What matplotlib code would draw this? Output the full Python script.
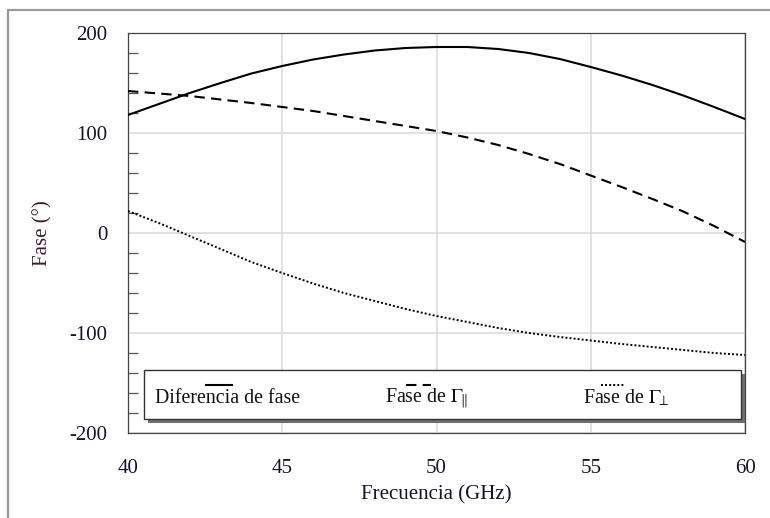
import matplotlib
matplotlib.use("Agg")
import matplotlib.pyplot as plt
from matplotlib.patches import Rectangle
from matplotlib.lines import Line2D
from matplotlib.ticker import MultipleLocator

plt.rcParams["font.family"] = ["Liberation Serif", "DejaVu Serif"]
plt.rcParams["mathtext.fontset"] = "stix"
plt.rcParams["axes.unicode_minus"] = False

# Frequency sweep (GHz) and phase curves (degrees)
freq = [40, 41, 42, 43, 44, 45, 46, 47, 48, 49, 50,
        51, 52, 53, 54, 55, 56, 57, 58, 59, 60]
diferencia = [118, 129, 140, 150, 159.5, 167, 173.5, 178.5, 182.5, 185, 186,
              186, 184, 180, 174, 166, 157.5, 148, 137.5, 126, 114]
fase_par = [142, 139.5, 137, 133.5, 130, 126, 122, 117, 112, 107, 102,
            95.5, 88, 79, 69, 57.5, 46, 34, 21.5, 7, -9]
fase_perp = [22, 10, -3, -16, -29, -40, -50.5, -60, -68, -76, -83,
             -89, -95, -100, -104, -107.5, -111, -114, -117, -120, -122]

labels = ["Diferencia de fase", r"Fase de $\Gamma_{\!\|}$", r"Fase de $\Gamma_{\!\!\bot}$"]
x_ticks = [40, 45, 50, 55, 60]
y_ticks = [-200, -100, 0, 100, 200]

W, H = 770, 518
fig = plt.figure(figsize=(W / 100, H / 100), dpi=100)
ax = fig.add_axes([128 / W, 1 - 433 / H, (745 - 128) / W, (433 - 33) / H])

solid_style = dict(color="black", lw=1.5, linestyle="-")
dash_style = dict(color="black", lw=1.5, linestyle=(0, (5, 3)))
dot_style = dict(color="black", lw=1.4, linestyle=(0, (1, 1.1)))

ax.plot(freq, diferencia, **solid_style, zorder=3)
ax.plot(freq, fase_par, **dash_style, zorder=3)
ax.plot(freq, fase_perp, **dot_style, zorder=3)

ax.set_xlim(40, 60)
ax.set_ylim(-200, 200)
ax.set_xticks(x_ticks)
ax.set_yticks(y_ticks)
ax.yaxis.set_minor_locator(MultipleLocator(20))
ax.grid(True, which="major", color="#d8d8d8", lw=1.1, zorder=0)
ax.tick_params(axis="both", which="major", length=0, labelsize=15,
               labelcolor="#14142a")
ax.tick_params(axis="x", pad=19)
ax.tick_params(axis="y", pad=15)
ax.tick_params(axis="y", which="minor", direction="in", length=7,
               width=0.9, color="#555555")
ax.tick_params(axis="x", which="minor", length=0)
for sp in ax.spines.values():
    sp.set_color("#444444")
    sp.set_linewidth(0.9)

ax.set_xlabel("Frecuencia (GHz)", fontsize=15, color="#14142a", labelpad=5)
ax.set_ylabel("Fase (°)", fontsize=15, color="#3a1f33", labelpad=12)

# Boxed legend with a drop shadow, samples drawn above each label
bx0, bx1 = (144 - 128) / 617, (741 - 128) / 617
by0, by1 = (433 - 419) / 400, (433 - 370) / 400
sdx, sdy = 4 / 617, 4 / 400
ax.add_patch(Rectangle((bx0 + sdx, by0 - sdy), bx1 - bx0, by1 - by0,
                       transform=ax.transAxes, facecolor="#6e6e6e",
                       edgecolor="none", zorder=4))
ax.add_patch(Rectangle((bx0, by0), bx1 - bx0, by1 - by0,
                       transform=ax.transAxes, facecolor="white",
                       edgecolor="#333333", lw=1.0, zorder=5))

text_x = [(155 - 128) / 617, (385 - 128) / 617, (583 - 128) / 617]
sample_x = [((206 - 128) / 617, (232 - 128) / 617),
            ((406 - 128) / 617, (431 - 128) / 617),
            ((601 - 128) / 617, (624 - 128) / 617)]
styles = [solid_style, dash_style, dot_style]
ty = (433 - 403) / 400
sy = (433 - 385) / 400
for lab, tx, (sx0, sx1), st in zip(labels, text_x, sample_x, styles):
    ax.text(tx, ty, lab, transform=ax.transAxes, fontsize=14.3,
            color="#111111", va="baseline", ha="left", zorder=6)
    ax.add_line(Line2D([sx0, sx1], [sy, sy], transform=ax.transAxes,
                       zorder=6, **st))

# Outer panel frame
fig.add_artist(Rectangle((8 / W, -0.1), 1.1, 1 - 10 / H + 0.1,
                         transform=fig.transFigure, facecolor="none",
                         edgecolor="#9a9a9a", lw=1.6))

fig.savefig("out.png", dpi=100)
